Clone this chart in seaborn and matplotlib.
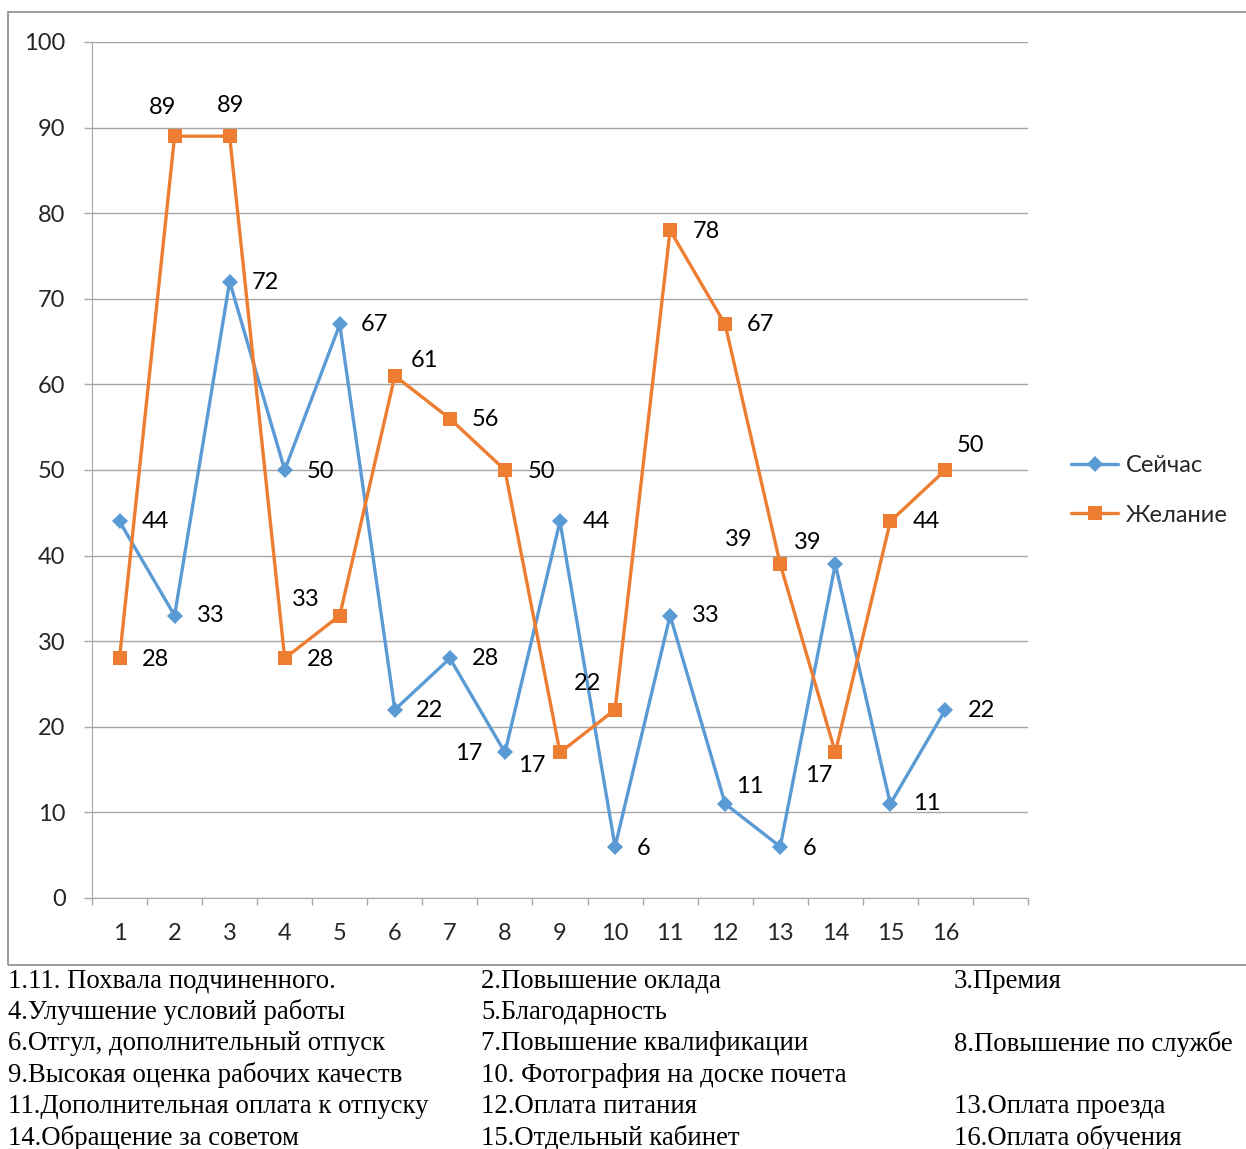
import pandas as pd
import matplotlib.pyplot as plt
import seaborn as sns
from matplotlib.patches import Rectangle

# Data
categories = list(range(1, 17))
now_values = [44, 33, 72, 50, 67, 22, 28, 17, 44, 6, 33, 11, 6, 39, 11, 22]
wish_values = [28, 89, 89, 28, 33, 61, 56, 50, 17, 22, 78, 67, 39, 17, 44, 50]
series_names = ["Сейчас", "Желание"]

notes = [
    ["1.11. Похвала подчиненного.", "2.Повышение оклада", "3.Премия"],
    ["4.Улучшение условий работы", "5.Благодарность", ""],
    ["6.Отгул, дополнительный отпуск", "7.Повышение квалификации", "8.Повышение по службе"],
    ["9.Высокая оценка рабочих качеств", "10. Фотография на доске почета", ""],
    ["11.Дополнительная оплата к отпуску", "12.Оплата питания", "13.Оплата проезда"],
    ["14.Обращение за советом", "15.Отдельный кабинет", "16.Оплата обучения"],
]

# label offsets in pixels (dx, dy)
now_offsets = [(36, 0), (36, 0), (36, -1), (36, -1), (35, 0), (35, -1), (36, 0), (-36, -1),
               (36, 0), (29, -2), (36, 0), (25, 17), (29, -2), (-28, 22), (36, 0), (36, -1)]
wish_offsets = [(36, -1), (-12, 29), (1, 31), (36, -1), (-34, 16), (30, 15), (36, -1), (36, -1),
                (-28, -13), (-28, 26), (36, -1), (35, 0), (-42, 25), (-17, -23), (36, 0), (25, 25)]

blue = "#5B9BD5"
orange = "#ED7D31"
grid_col = "#A6A6A6"

df = pd.DataFrame({
    "cat": categories * 2,
    "value": now_values + wish_values,
    "series": [series_names[0]] * 16 + [series_names[1]] * 16,
})

sns.set_style("white")
plt.rcParams["font.family"] = ["Lato", "DejaVu Sans"]

fig = plt.figure(figsize=(12.46, 11.49), dpi=100)
ax = fig.add_axes([92 / 1246, 1 - 898 / 1149, (1028 - 92) / 1246, (898 - 42) / 1149])

sns.lineplot(
    data=df, x="cat", y="value", hue="series", style="series",
    palette=[blue, orange], markers=["D", "s"], dashes=False,
    linewidth=2.4, markeredgewidth=0, ax=ax, legend=False,
)
for line, ms in zip(ax.get_lines(), [8, 10]):
    line.set_markersize(ms)

# data labels
for vals, offs in [(now_values, now_offsets), (wish_values, wish_offsets)]:
    for x, v, (dx, dy) in zip(categories, vals, offs):
        ax.annotate(str(v), (x, v), xytext=(dx, dy), textcoords="offset pixels",
                    ha="center", va="center", fontsize=17, color="#000000")

ax.set_xlim(0.5, 17.5)
ax.set_ylim(0, 100)
ax.set_yticks(range(0, 101, 10))
ax.set_xticks(categories)
ax.set_xticks([i + 0.5 for i in range(0, 18)], minor=True)
ax.set_xlabel("")
ax.set_ylabel("")
ax.tick_params(axis="x", which="major", length=0, labelsize=17, pad=18)
ax.tick_params(axis="x", which="minor", length=5, color=grid_col, width=1, direction="out", bottom=True)
ax.tick_params(axis="y", length=6, color=grid_col, width=1, direction="out", left=True,
               labelsize=17, pad=13)
ax.grid(axis="y", color=grid_col, linewidth=1)
ax.set_axisbelow(True)
for s in ["top", "right"]:
    ax.spines[s].set_visible(False)
ax.spines["left"].set_color(grid_col)
ax.spines["bottom"].set_color(grid_col)

# legend
handles = ax.get_lines()[:2]
fig.legend(handles, series_names, loc="upper left", bbox_to_anchor=(1050 / 1246, 1 - 434 / 1149),
           frameon=False, fontsize=17, handlelength=2.0, labelspacing=1.2, handletextpad=0.3)

# chart border
fig.add_artist(Rectangle((8 / 1246, 1 - 965 / 1149), 1.0, (965 - 12) / 1149,
                         transform=fig.transFigure, fill=False, edgecolor="#8C8C8C", linewidth=1.2))

# notes below chart
col_x = [8, 481, 954]
for r, row in enumerate(notes):
    y = 981 + r * 31.4
    for c, txt in enumerate(row):
        if txt:
            fig.text(col_x[c] / 1246, 1 - y / 1149, txt, family=["Liberation Serif", "DejaVu Serif"],
                     fontsize=19.3, ha="left", va="center", color="#000000")

fig.savefig("out.png", dpi=100)
